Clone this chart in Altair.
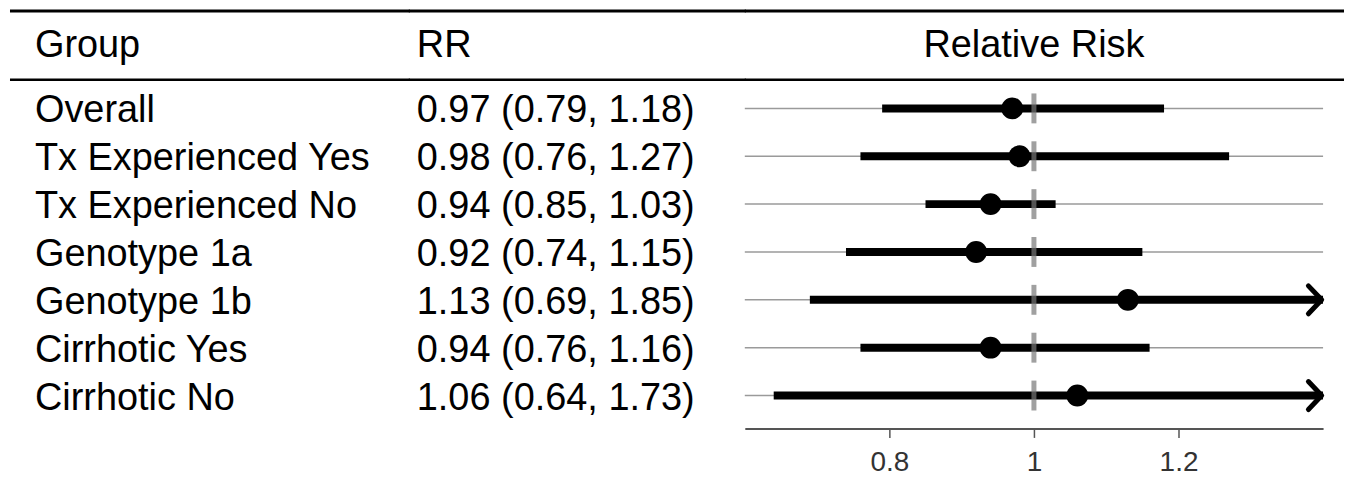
import altair as alt
import pandas as pd

# ---- data ----
groups = ["Overall", "Tx Experienced Yes", "Tx Experienced No", "Genotype 1a",
          "Genotype 1b", "Cirrhotic Yes", "Cirrhotic No"]
rr = [0.97, 0.98, 0.94, 0.92, 1.13, 0.94, 1.06]
lower = [0.79, 0.76, 0.85, 0.74, 0.69, 0.76, 0.64]
upper = [1.18, 1.27, 1.03, 1.15, 1.85, 1.16, 1.73]
x_ticks = [0.8, 1.0, 1.2]
x_domain = [0.6, 1.4]
ref_value = 1.0
header_group = "Group"
header_rr = "RR"
header_plot = "Relative Risk"

df = pd.DataFrame({"group": groups, "rr": rr, "lower": lower, "upper": upper})
df["label"] = [f"{r:.2f} ({l:.2f}, {u:.2f})" for r, l, u in zip(rr, lower, upper)]
one = pd.DataFrame({"k": [0]})

# ---- style ----
FONT = "Liberation Sans"
FS = 38
W1, W2, W3, H = 400, 337, 580, 421
EXTRA_RIGHT = 21
ROW_RANGE = [100, 388]
HEADER_Y = 48
TOP_RULE_Y = 2.2
HEAD_RULE_Y = 71.3

y_enc = alt.Y("group:N", sort=groups,
              scale=alt.Scale(type="point", domain=groups, range=ROW_RANGE, padding=0),
              axis=None)


def rules(width):
    top = alt.Chart(one).mark_rule(color="black", strokeWidth=3).encode(
        x=alt.value(0), x2=alt.value(width), y=alt.value(TOP_RULE_Y))
    head = alt.Chart(one).mark_rule(color="black", strokeWidth=2.5).encode(
        x=alt.value(0), x2=alt.value(width), y=alt.value(HEAD_RULE_Y))
    return [top, head]


def text_col(field, header, width, xoff):
    head = alt.Chart(one).mark_text(align="left", baseline="alphabetic", font=FONT,
                                    fontSize=FS, color="black", text=header).encode(
        x=alt.value(xoff), y=alt.value(HEADER_Y))
    txt = alt.Chart(df).mark_text(align="left", baseline="alphabetic", dy=14, font=FONT,
                                  fontSize=FS, color="black").encode(
        x=alt.value(xoff), y=y_enc, text=alt.Text(field + ":N"))
    return alt.layer(*rules(width + 1), head, txt).properties(width=width, height=H)


p1 = text_col("group", header_group, W1, 25)
p2 = text_col("label", header_rr, W2, 8)

x_scale = alt.Scale(domain=x_domain, nice=False, zero=False)
x_axis = alt.Axis(values=x_ticks, format=".1~f", title=None, grid=False,
                  labelFont=FONT, labelFontSize=28, labelColor="#333333",
                  domainColor="#555555", tickColor="#555555", domainWidth=2,
                  tickWidth=1.5, tickSize=9, labelPadding=11)

base = alt.Chart(df)
row_lines = base.mark_rule(color="#9a9a9a", strokeWidth=1.5).encode(
    x=alt.value(0), x2=alt.value(W3), y=y_enc)
ci = base.transform_calculate(
    up_clip=f"min(datum.upper, {x_domain[1]})"
).mark_rule(color="black", strokeWidth=8, clip=True).encode(
    x=alt.X("lower:Q", scale=x_scale, axis=x_axis), x2="up_clip:Q", y=y_enc)
ref = base.mark_tick(color="#787878", thickness=5, size=30, orient="vertical").encode(
    x=alt.datum(ref_value), y=y_enc)
pts = base.mark_circle(size=480, color="black", opacity=1).encode(
    x=alt.X("rr:Q"), y=y_enc)
arrows = base.transform_filter(
    f"datum.upper > {x_domain[1]}"
).transform_calculate(tip=f"{x_domain[1]}").mark_point(
    shape="M-1.05,-1L-0.1,0L-1.05,1", size=784, filled=False, strokeWidth=5,
    color="black", opacity=1, strokeCap="round", strokeJoin="round").encode(
    x=alt.X("tip:Q"), y=y_enc)
head3 = alt.Chart(one).mark_text(align="center", baseline="alphabetic", font=FONT,
                                 fontSize=FS, color="black", text=header_plot).encode(
    x=alt.value(W3 / 2), y=alt.value(HEADER_Y))

p3 = alt.layer(*rules(W3 + EXTRA_RIGHT), head3, row_lines, ci, ref, pts, arrows).properties(
    width=W3, height=H)

chart = alt.hconcat(p1, p2, p3, spacing=0, bounds="flush").properties(
    padding=0).configure_view(stroke=None)

chart.save("out.html", embed_options={"renderer": "svg", "actions": False})
